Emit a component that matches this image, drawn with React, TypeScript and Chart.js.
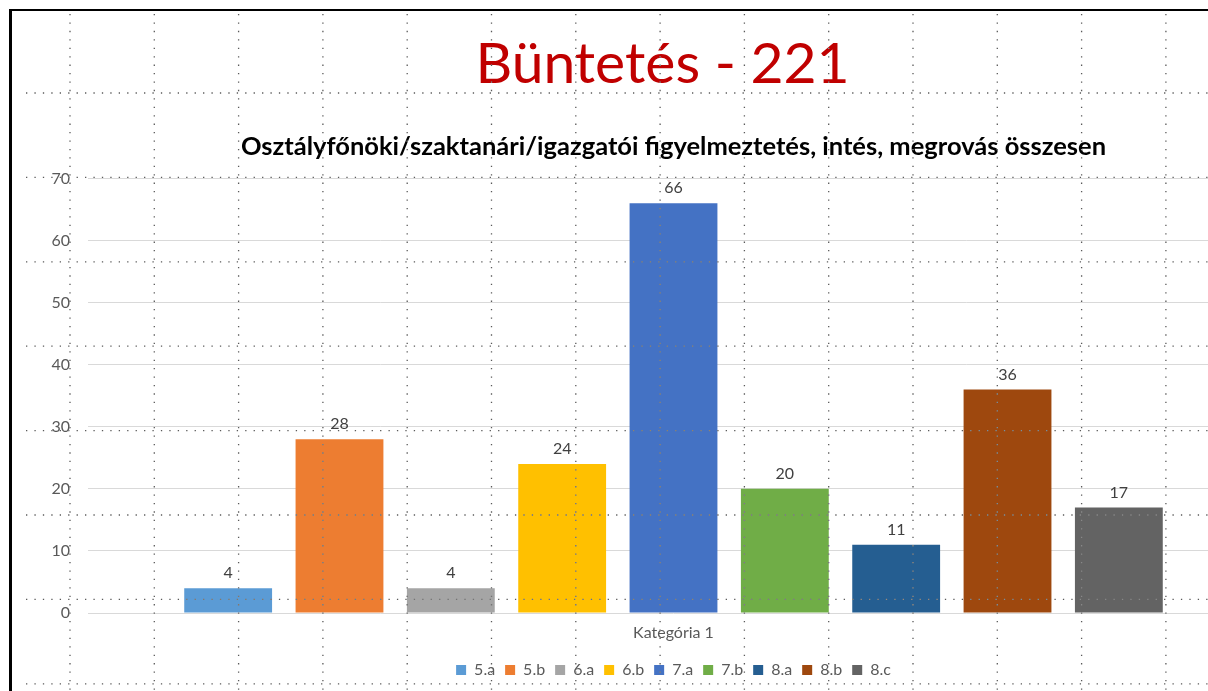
import React, { useEffect, useRef } from "react";
import { Chart, registerables } from "chart.js";

Chart.register(...registerables);

const categories = ["Kategória 1"];
const seriesNames = ["5.a", "5.b", "6.a", "6.b", "7.a", "7.b", "8.a", "8.b", "8.c"];
const seriesValues = [4, 28, 4, 24, 66, 20, 11, 36, 17];
const seriesColors = ["#5B9BD5", "#ED7D31", "#A5A5A5", "#FFC000", "#4472C4", "#70AD47", "#255E91", "#9E480E", "#636363"];
const yTicks = [0, 10, 20, 30, 40, 50, 60, 70];
const slideTitle = "Büntetés - 221";
const chartTitle = "Osztályfőnöki/szaktanári/igazgatói figyelmeztetés, intés, megrovás összesen";

const FONT = "Lato, 'Noto Sans', sans-serif";

const dataLabels = {
  id: "dataLabels",
  afterDatasetsDraw(chart: any) {
    const ctx = chart.ctx;
    ctx.save();
    ctx.font = `16px ${FONT}`;
    ctx.fillStyle = "#404040";
    ctx.textAlign = "center";
    ctx.textBaseline = "bottom";
    chart.data.datasets.forEach((ds: any, i: number) => {
      const meta = chart.getDatasetMeta(i);
      meta.data.forEach((bar: any, j: number) => {
        ctx.fillText(String(ds.data[j]), bar.x, bar.y - 7);
      });
    });
    ctx.restore();
  },
};

export default function App() {
  const ref = useRef<HTMLCanvasElement | null>(null);

  useEffect(() => {
    if (!ref.current) return;
    const chart = new Chart(ref.current, {
      type: "bar",
      data: {
        labels: categories,
        datasets: seriesNames.map((name, i) => ({
          label: name,
          data: [seriesValues[i]],
          backgroundColor: seriesColors[i],
          borderWidth: 0,
          categoryPercentage: 0.8557,
          barPercentage: 0.789,
        })),
      },
      options: {
        animation: false,
        responsive: false,
        layout: { padding: { left: 0, right: 0, top: 0, bottom: 0 } },
        plugins: {
          tooltip: { enabled: false },
          title: {
            display: true,
            text: chartTitle,
            color: "#000000",
            font: { family: FONT, size: 25.5, weight: "bold" },
            padding: { top: 21.7, bottom: 16.2 },
            fullSize: false,
          },
          legend: {
            display: true,
            position: "bottom",
            fullSize: false,
            labels: {
              boxWidth: 10,
              boxHeight: 10,
              color: "#595959",
              font: { family: FONT, size: 16 },
              padding: 10,
            },
          },
        },
        scales: {
          x: {
            grid: { display: false, drawTicks: false },
            border: { display: false },
            ticks: { color: "#595959", font: { family: FONT, size: 16 }, padding: 9.9 },
          },
          y: {
            min: 0,
            max: 70,
            afterFit(scale: any) {
              scale.width = 88;
            },
            afterBuildTicks(scale: any) {
              scale.ticks = yTicks.map((v) => ({ value: v }));
            },
            grid: { color: "#D9D9D9", lineWidth: 1, drawTicks: false },
            border: { display: false },
            ticks: { color: "#595959", font: { family: FONT, size: 16 }, padding: 18 },
          },
        },
      } as any,
      plugins: [dataLabels],
    });
    return () => chart.destroy();
  }, []);

  const vLines: number[] = [];
  for (let k = 0; k < 14; k++) vLines.push(70 + 84.3 * k);
  const hLines: number[] = [];
  for (let j = 0; j < 8; j++) hLines.push(93 + 84.4 * j);

  return (
    <div
      style={{
        position: "fixed",
        left: 0,
        top: 0,
        width: 1208,
        height: 691,
        overflow: "hidden",
        background: "#ffffff",
      }}
    >
      <div
        style={{
          position: "absolute",
          left: 9,
          top: 9,
          width: 1400,
          height: 900,
          borderTop: "2px solid #000",
          borderLeft: "3px solid #000",
        }}
      />
      <div
        style={{
          position: "absolute",
          left: 0,
          top: 33,
          width: 1325,
          textAlign: "center",
          fontFamily: FONT,
          fontSize: 57,
          lineHeight: "57px",
          color: "#C00000",
          whiteSpace: "nowrap",
        }}
      >
        {slideTitle}
      </div>
      <canvas
        ref={ref}
        width={1259}
        height={578}
        style={{ position: "absolute", left: 0, top: 110, width: 1259, height: 578 }}
      />
      <svg
        width={1208}
        height={691}
        style={{ position: "absolute", left: 0, top: 0, pointerEvents: "none", mixBlendMode: "difference", opacity: 0.65 }}
      >
        {vLines.map((x, i) => (
          <line key={"v" + i} x1={x} y1={14} x2={x} y2={691} stroke="#ffffff" strokeWidth={1.3} strokeDasharray="1.3 7.13" />
        ))}
        {hLines.map((y, i) => (
          <line key={"h" + i} x1={26} y1={y} x2={1208} y2={y} stroke="#ffffff" strokeWidth={1.3} strokeDasharray="1.3 7.13" />
        ))}
      </svg>
    </div>
  );
}
